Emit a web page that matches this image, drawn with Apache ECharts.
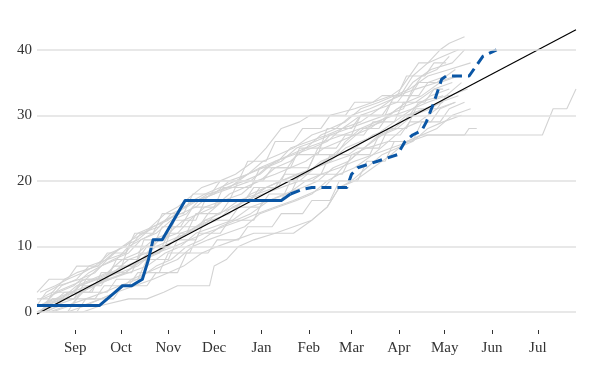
<!DOCTYPE html>
<html>
<head>
<meta charset="utf-8">
<script src="https://cdn.jsdelivr.net/npm/echarts@6/dist/echarts.min.js"></script>
<style>html,body{margin:0;padding:0;background:#fff}#c{width:592px;height:370px}</style>
</head>
<body>
<div id="c"></div>
<script>
// x values are days since Aug 1
const monthTicks = [45, 75, 106, 136, 167, 198, 226, 257, 287, 318, 348];
const monthLabels = ['Sep', 'Oct', 'Nov', 'Dec', 'Jan', 'Feb', 'Mar', 'Apr', 'May', 'Jun', 'Jul'];
const yTicks = [0, 10, 20, 30, 40];

const paceLine = [[20, -0.3], [373, 43.05]];

const currentSolid = [[20,1],[61,1],[71,3],[76,4],[82,4],[89,5],[93,8],[96,11],[102,11],[117,17],[180,17],[186,18]];
const currentDashed = [[186,18],[194,18.7],[200,19],[223,19],[226,21],[230,22],[243,23],[256,24],[261,26],[266,27],[272,27.7],[275,29],[280,32],[285,35.5],[288,36],[303,36],[312,39],[321,40]];

const season01 = [[22,2],[30,3],[38,5],[46,6],[60,7],[70,9],[82,11],[90,12],[104,15],[112,16],[128,19],[140,20],[150,21],[162,23],[170,25],[180,28],[192,29],[199,30],[212,30],[228,31],[240,32],[252,33],[258,34],[270,38],[276,38],[284,40],[290,41],[300,42]];
const season02 = [[20,1],[26,3],[34,4],[48,5],[58,6],[66,8],[78,9],[88,12],[100,13],[108,15],[118,16],[132,18],[146,19],[158,21],[168,22],[178,23],[186,25],[198,26],[210,27],[220,28],[232,30],[244,31],[256,32],[266,35],[278,37],[292,38],[300,40]];
const season03 = [[24,0],[30,3],[44,3],[50,5],[66,5],[72,8],[86,8],[92,10],[104,10],[110,14],[124,14],[130,17],[146,17],[152,20],[168,20],[174,22],[186,22],[192,25],[204,25],[212,27],[226,27],[232,30],[246,30],[252,32],[262,32],[270,35],[282,35],[294,37]];
const season04 = [[22,1],[30,1],[40,2],[48,4],[60,5],[70,6],[80,8],[92,9],[100,11],[112,12],[120,14],[130,16],[142,17],[154,18],[164,20],[176,21],[186,22],[196,23],[208,25],[218,26],[228,27],[238,28],[250,30],[262,32],[272,33],[284,35],[296,36]];
const season05 = [[26,0],[34,1],[40,3],[56,3],[62,6],[74,6],[80,10],[96,10],[102,13],[114,13],[122,16],[136,16],[142,19],[160,19],[166,22],[184,22],[190,24],[204,24],[210,28],[226,28],[232,30],[248,30],[254,33],[270,33],[276,35],[288,36]];
const season06 = [[28,0],[40,1],[52,2],[64,3],[74,4],[86,5],[98,7],[108,8],[118,10],[128,11],[140,13],[150,14],[160,15],[172,17],[182,18],[194,19],[204,20],[214,22],[224,23],[234,25],[246,27],[256,28],[266,30],[278,31],[290,33],[302,34]];
const season07 = [[30,0],[50,0],[62,1],[80,2],[92,2],[103,3],[112,4],[133,4],[136,7],[144,8],[152,10],[162,11],[176,12],[188,12],[200,14],[210,16],[218,19],[228,20],[240,22],[252,24],[262,26],[272,27],[282,28],[292,30],[304,31]];
const season08 = [[24,0],[36,1],[50,1],[62,2],[72,3],[84,4],[96,5],[106,6],[116,7],[128,9],[138,10],[150,11],[162,12],[176,12],[188,13],[200,14],[210,16],[218,19],[226,20],[236,22],[246,24],[256,25],[266,26],[276,28],[286,29],[298,30]];
const season09 = [[22,0],[32,1],[44,2],[56,4],[68,5],[80,6],[92,7],[104,9],[114,10],[124,12],[136,13],[148,14],[160,16],[172,17],[184,18],[196,20],[206,21],[218,22],[228,23],[240,24],[252,25],[264,26],[276,27],[287,27],[351,27],[358,31],[367,31],[373,34]];
const season10 = [[26,1],[38,2],[48,3],[58,4],[70,6],[80,7],[92,8],[102,10],[112,11],[124,13],[134,14],[146,15],[156,17],[168,18],[180,19],[192,20],[202,22],[214,23],[226,24],[236,25],[250,26],[262,26],[272,27],[300,27],[303,28],[308,28]];
const season11 = [[20,2],[28,2],[36,4],[46,5],[54,7],[66,8],[76,10],[86,11],[96,13],[106,14],[116,16],[124,17],[136,18],[146,20],[158,21],[168,23],[178,24],[188,25],[200,27],[212,28],[222,29],[232,31],[244,32],[254,33],[264,34],[276,36],[290,37],[304,38]];
const season12 = [[22,0],[30,2],[46,2],[52,5],[64,5],[70,7],[84,7],[90,11],[104,11],[110,13],[126,13],[132,15],[142,17],[156,17],[162,19],[176,19],[182,21],[196,21],[202,24],[216,24],[222,26],[232,28],[244,28],[250,30],[264,30],[270,32],[286,33]];
const season13 = [[24,1],[34,2],[44,3],[54,3],[62,5],[74,6],[86,7],[96,9],[106,10],[114,12],[126,13],[138,14],[148,16],[158,17],[170,19],[180,20],[190,21],[202,22],[214,24],[224,26],[234,28],[246,29],[256,31],[268,32],[280,34],[292,35]];
const season14 = [[20,0],[28,1],[38,3],[48,3],[58,4],[68,5],[78,6],[90,8],[100,9],[110,11],[118,12],[130,14],[140,15],[152,17],[164,18],[176,19],[186,20],[196,21],[206,23],[216,24],[228,25],[240,27],[252,28],[262,30],[274,31],[284,32],[296,33]];
const season15 = [[22,3],[32,4],[40,5],[50,6],[58,7],[68,9],[78,10],[86,12],[96,13],[104,14],[114,15],[124,16],[134,18],[144,19],[156,20],[166,21],[176,23],[188,24],[200,25],[210,26],[220,28],[232,29],[244,31],[256,33],[268,34],[282,35],[294,36]];
const season16 = [[26,0],[40,0],[46,2],[58,2],[64,4],[80,4],[86,6],[100,6],[106,9],[120,9],[126,12],[140,12],[146,14],[162,14],[168,17],[180,17],[186,20],[200,20],[206,21],[220,21],[226,24],[238,24],[244,27],[258,27],[264,29],[278,29],[284,31],[294,32]];
const season17 = [[24,1],[32,3],[42,4],[52,5],[62,7],[70,8],[80,9],[88,11],[98,12],[108,14],[118,15],[126,17],[136,18],[148,19],[160,20],[170,22],[180,23],[190,25],[202,26],[212,27],[224,28],[236,29],[248,30],[260,31],[266,34],[272,36],[282,37],[290,39]];
const season18 = [[28,0],[40,0],[52,1],[62,2],[72,3],[82,5],[92,6],[102,7],[112,8],[122,10],[132,11],[144,12],[156,13],[166,15],[178,16],[190,17],[200,18],[210,20],[218,21],[228,22],[240,24],[250,26],[260,28],[270,29],[282,31],[294,32]];
const season19 = [[22,1],[30,2],[44,2],[50,4],[62,4],[68,6],[82,6],[88,9],[100,9],[106,12],[118,12],[124,15],[140,15],[146,17],[160,17],[166,19],[178,19],[184,22],[198,22],[204,25],[216,25],[222,27],[234,27],[240,29],[254,29],[260,32],[274,32],[280,34],[286,34]];
const season20 = [[24,2],[34,3],[44,4],[54,6],[62,7],[72,8],[80,10],[88,11],[96,12],[104,14],[112,15],[122,17],[130,18],[140,19],[150,20],[158,21],[166,22],[176,23],[186,24],[196,25],[208,26],[220,27],[232,28],[242,29],[254,30],[266,31],[278,33],[290,34]];
const season21 = [[20,0],[30,1],[38,2],[48,4],[58,5],[68,6],[78,7],[88,8],[98,10],[108,11],[118,12],[128,13],[138,15],[150,16],[160,18],[170,19],[180,20],[192,21],[202,22],[212,23],[222,25],[232,26],[242,27],[254,29],[266,31],[276,32],[288,33],[298,35]];
const season22 = [[30,0],[42,1],[50,3],[66,3],[72,5],[86,5],[92,8],[106,8],[112,11],[124,11],[130,14],[146,14],[152,16],[166,16],[172,18],[186,18],[192,21],[206,21],[212,24],[224,24],[230,25],[244,25],[250,28],[262,28],[268,31],[282,31],[288,33],[292,33]];
const season23 = [[22,1],[32,2],[42,3],[54,4],[66,5],[78,6],[88,8],[98,9],[110,10],[120,11],[130,12],[142,13],[154,14],[164,15],[176,16],[188,17],[198,18],[208,19],[216,21],[224,23],[234,25],[244,27],[254,28],[264,30],[274,31],[286,32]];
const season24 = [[26,1],[36,2],[46,4],[56,5],[66,6],[76,8],[86,9],[96,11],[106,12],[116,14],[126,15],[136,16],[146,18],[156,19],[166,20],[176,22],[186,23],[196,25],[206,27],[216,28],[226,30],[238,31],[248,32],[258,33],[266,36],[276,38],[286,39],[296,40]];
const season25 = [[20,3],[28,5],[40,5],[46,7],[60,7],[66,9],[78,9],[84,12],[96,12],[102,15],[116,15],[122,18],[134,18],[140,20],[152,20],[158,23],[170,23],[176,26],[188,26],[194,28],[206,28],[212,30],[222,30],[228,32],[240,32],[246,33],[256,33],[262,36],[274,36],[280,38],[288,38]];
const season26 = [[32,0],[46,0],[52,2],[70,2],[76,4],[92,4],[98,6],[112,6],[118,9],[132,9],[138,11],[152,11],[158,13],[174,13],[180,15],[194,15],[200,17],[212,17],[218,20],[230,20],[236,23],[248,23],[254,26],[266,26],[272,29],[284,29],[290,31],[300,32]];

const pastSeasons = [season01,season02,season03,season04,season05,season06,season07,season08,season09,season10,season11,season12,season13,season14,season15,season16,season17,season18,season19,season20,season21,season22,season23,season24,season25,season26];

const FONT = 'Liberation Serif';
const chart = echarts.init(document.getElementById('c'), null, {renderer: 'canvas'});

const series = pastSeasons.map(d => ({
  type: 'line', data: d, showSymbol: false, silent: true, z: 1,
  lineStyle: {color: '#d3d3d3', width: 1.1}
}));
series.unshift({
  type: 'line', data: [], silent: true, z: 0,
  markLine: {
    silent: true, symbol: 'none', label: {show: false},
    lineStyle: {color: '#e0e0e0', width: 1.5, type: 'solid'},
    data: yTicks.map(v => ({yAxis: v}))
  }
});
series.push({
  type: 'line', data: paceLine, showSymbol: false, silent: true, z: 3,
  lineStyle: {color: '#000', width: 1.2}
});
series.push({
  type: 'line', data: currentSolid, showSymbol: false, silent: true, z: 4,
  lineStyle: {color: '#0a56a5', width: 3, cap: 'butt', join: 'round'}
});
series.push({
  type: 'line', data: currentDashed, showSymbol: false, silent: true, z: 4,
  lineStyle: {color: '#0a56a5', width: 3, type: [10, 6], cap: 'butt'}
});

chart.setOption({
  animation: false,
  backgroundColor: '#fff',
  grid: {left: 37, right: 16, top: 17, bottom: 40, containLabel: false},
  xAxis: {
    type: 'value', min: 20, max: 373,
    axisLine: {show: false, onZero: false},
    splitLine: {show: false},
    axisTick: {show: true, customValues: monthTicks, length: 4, lineStyle: {color: '#333', width: 1}},
    axisLabel: {
      customValues: monthTicks, margin: 11,
      color: '#333', fontFamily: FONT, fontSize: 15,
      formatter: v => monthLabels[monthTicks.indexOf(v)] || ''
    }
  },
  yAxis: {
    type: 'value', min: -2.75, max: 45,
    axisLine: {show: false},
    axisTick: {show: false},
    splitLine: {show: false},
    axisLabel: {customValues: yTicks, margin: 5, color: '#333', fontFamily: FONT, fontSize: 15}
  },
  series: series
});
</script>
</body>
</html>
